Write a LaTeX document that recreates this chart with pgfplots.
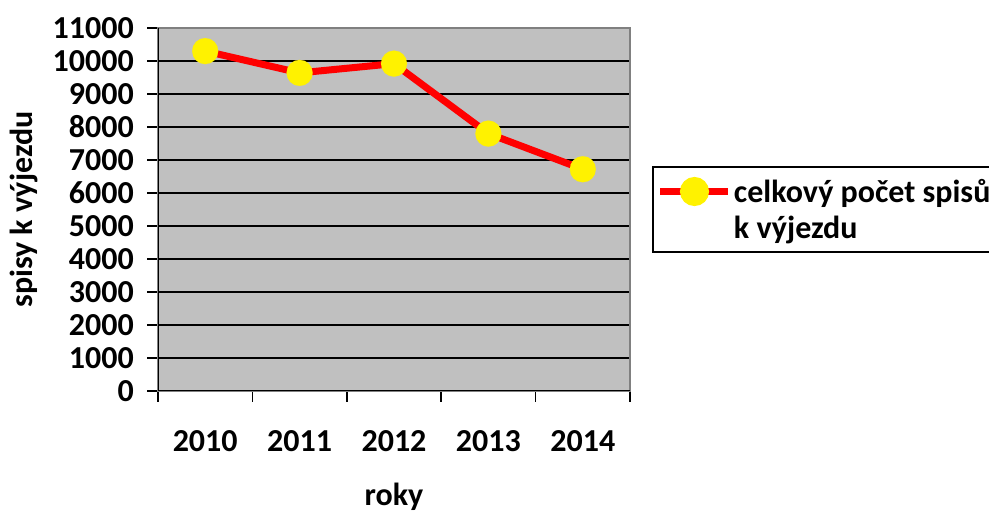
\documentclass[border=0pt]{standalone}
\usepackage{pgfplots}
\pgfplotsset{compat=1.18}
\usepackage{fontspec}
\setmainfont{Carlito}
\definecolor{plotgray}{HTML}{C0C0C0}
\definecolor{framegray}{HTML}{808080}
\newcommand{\chartfont}{\bfseries\fontsize{32bp}{36bp}\selectfont}
\begin{document}
\begin{tikzpicture}
\useasboundingbox (0,0) rectangle (989bp,513bp);
\begin{axis}[
  at={(158bp,122bp)}, anchor=south west,
  scale only axis, width=472bp, height=363bp,
  xmin=-0.5, xmax=4.5, ymin=0, ymax=11000,
  axis background/.style={fill=plotgray},
  axis line style={framegray, line width=1.5bp},
  ytick={0,1000,...,11000},
  scaled y ticks=false,
  xtick={-0.5,0.5,...,4.5}, xticklabels={},
  extra x ticks={0,1,2,3,4},
  extra x tick labels={2010,2011,2012,2013,2014},
  extra x tick style={major tick length=0pt},
  tick pos=left, tick align=outside,
  major tick length=11bp,
  tick style={black, line width=1.5bp},
  ymajorgrids, grid style={black, line width=1.5bp},
  /pgf/number format/assume math mode=true,
  /pgf/number format/1000 sep={},
  tick label style={font=\chartfont},
  yticklabel style={anchor=east, inner sep=0pt, xshift=-13bp},
  xticklabel style={anchor=center, inner sep=0pt, yshift=-50bp},
  label style={font=\chartfont},
  xlabel={roky},
  ylabel={spisy k výjezdu},
  xlabel style={at={(axis description cs:0.5,-0.292)}, anchor=center},
  ylabel style={at={(axis description cs:-0.284,0.5)}, anchor=center},
  legend style={at={(rel axis cs:1.0466,0.6198)}, anchor=north west,
    draw=black, line width=2bp, font=\chartfont,
    inner xsep=4bp, inner ysep=10bp, cells={align=left}},
  legend cell align=left,
  legend image code/.code={
    \draw[red, line width=7bp] (0bp,18bp) -- (68bp,18bp);
    \fill[yellow] (34bp,18bp) circle (11bp);
  },
]
\addplot[red, line width=7bp, mark=*, mark size=13bp,
  mark options={fill=yellow, draw=yellow, line width=0.1bp}]
  coordinates {(0,10300) (1,9640) (2,9920) (3,7800) (4,6720)};
\addlegendentry{celkový počet spisů\\k výjezdu}
\draw[black, line width=2bp] (rel axis cs:0,1) -- (rel axis cs:0,0) -- (rel axis cs:1,0);
\end{axis}
\end{tikzpicture}
\end{document}
